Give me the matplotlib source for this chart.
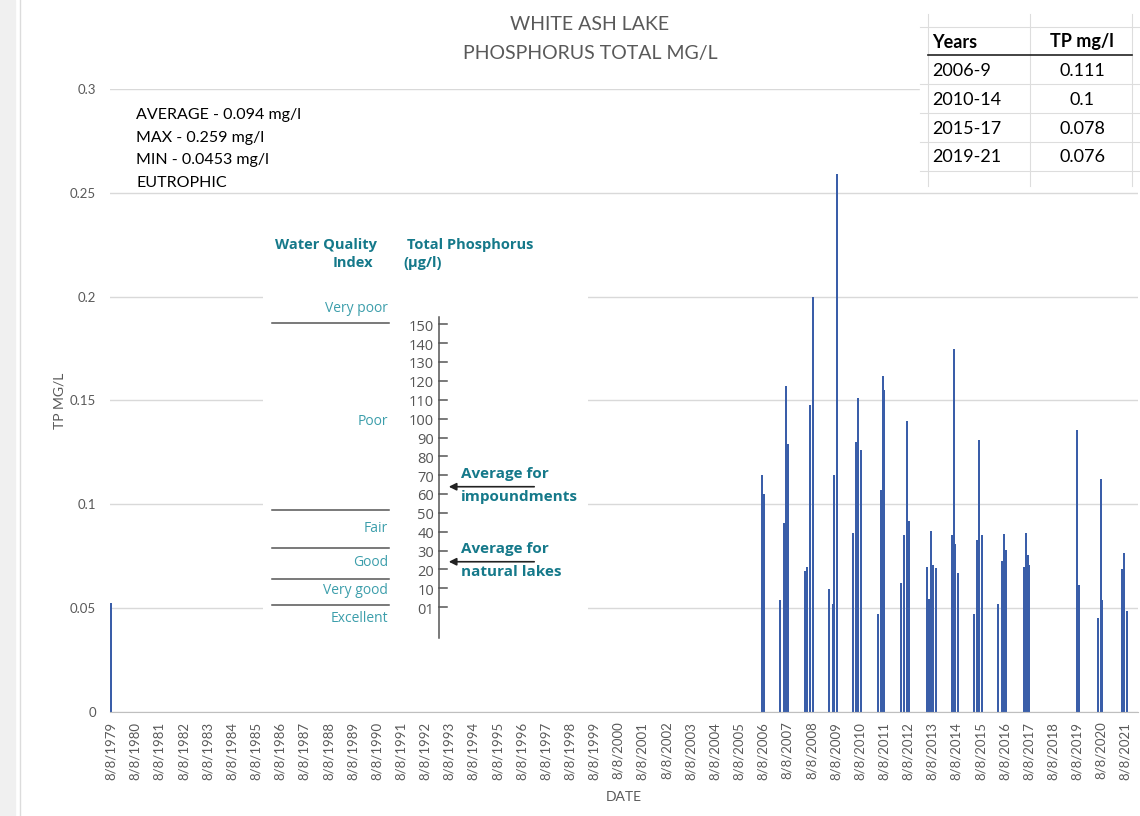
import datetime as dt

import matplotlib
matplotlib.use("Agg")
import matplotlib.pyplot as plt  # noqa: E402
import matplotlib.dates as mdates  # noqa: E402
from matplotlib.lines import Line2D  # noqa: E402
from matplotlib.patches import Rectangle, FancyArrowPatch  # noqa: E402

W, H = 1140, 816

# --- data --------------------------------------------------------------------
sample_dates = [
    "1979-08-08",
    "2006-07-28", "2006-08-18",
    "2007-04-21", "2007-06-25", "2007-07-21", "2007-08-25",
    "2008-05-04", "2008-06-08", "2008-07-23", "2008-08-28",
    "2009-05-06", "2009-06-27", "2009-07-21", "2009-08-26",
    "2010-04-25", "2010-06-18", "2010-07-19", "2010-08-24",
    "2011-05-08", "2011-06-22", "2011-07-22", "2011-08-16",
    "2012-04-25", "2012-06-14", "2012-07-20", "2012-08-28",
    "2013-05-18", "2013-06-18", "2013-07-22", "2013-08-22", "2013-10-11",
    "2014-05-31", "2014-06-30", "2014-07-25", "2014-08-30",
    "2015-05-03", "2015-06-18", "2015-07-13", "2015-08-28",
    "2016-05-01", "2016-06-26", "2016-07-31", "2016-08-25",
    "2017-05-24", "2017-06-28", "2017-07-24", "2017-08-17",
    "2019-08-03", "2019-09-03",
    "2020-06-21", "2020-08-06", "2020-08-25",
    "2021-06-24", "2021-07-19", "2021-08-29",
]
tp_mgl = [
    0.0524,
    0.114, 0.105,
    0.054, 0.091, 0.157, 0.129,
    0.068, 0.070, 0.148, 0.200,
    0.059, 0.052, 0.114, 0.259,
    0.086, 0.130, 0.151, 0.126,
    0.047, 0.107, 0.162, 0.155,
    0.062, 0.085, 0.140, 0.092,
    0.070, 0.0546, 0.087, 0.071, 0.0694,
    0.085, 0.175, 0.081, 0.067,
    0.047, 0.083, 0.131, 0.085,
    0.052, 0.0726, 0.0857, 0.078,
    0.0697, 0.086, 0.0754, 0.0706,
    0.136, 0.0613,
    0.0453, 0.112, 0.054,
    0.069, 0.0766, 0.0488,
]
tick_years = list(range(1979, 2022))
y_ticks = [0, 0.05, 0.1, 0.15, 0.2, 0.25, 0.3]
y_tick_labels = ["0", "0.05", "0.1", "0.15", "0.2", "0.25", "0.3"]

stats_lines = ["AVERAGE - 0.094 mg/l", "MAX - 0.259 mg/l",
               "MIN - 0.0453 mg/l", "EUTROPHIC"]

table_header = ["Years", "TP mg/l"]
table_years = ["2006-9", "2010-14", "2015-17", "2019-21"]
table_tp = ["0.111", "0.1", "0.078", "0.076"]

# pasted water-quality graphic (scale in ug/l)
wqi_labels = ["Very poor", "Poor", "Fair", "Good", "Very good", "Excellent"]
wqi_label_ug = [160, 100, 43.5, 25, 10.5, -4.5]
wqi_bounds_ug = [152, 53, 33, 16.5, 2.6]
scale_ug = [150, 140, 130, 120, 110, 100, 90, 80, 70, 60, 50, 40, 30, 20, 10, 0]
scale_labels = ["150", "140", "130", "120", "110", "100", "90", "80", "70",
                "60", "50", "40", "30", "20", "10", "01"]
avg_notes = ["Average for\nimpoundments", "Average for\nnatural lakes"]
avg_ug = [65.4, 25.6]

BAR = "#3A5EA9"
GRID = "#D9D9D9"
TXT = "#595959"
TEAL = "#15798A"
TEAL_LT = "#3C9EAB"

plt.rcParams["font.family"] = ["Lato", "DejaVu Sans"]


def fx(x):
    return x / W


def fy(y):
    return 1 - y / H


fig = plt.figure(figsize=(W / 100, H / 100), dpi=100, facecolor="white")

# worksheet edge on the left
fig.add_artist(Rectangle((0, 0), fx(15), 1, transform=fig.transFigure,
                         color="#F0F0F0", zorder=-1))
fig.add_artist(Line2D([fx(20), fx(20)], [0, 1], transform=fig.transFigure,
                      color="#DCDCDC", lw=1, zorder=-1))

# --- main chart --------------------------------------------------------------
ax = fig.add_axes([fx(110), fy(712), (1138 - 110) / W, (712 - 89) / H])
dates = [dt.datetime.strptime(d, "%Y-%m-%d") for d in sample_dates]
ax.bar(dates, tp_mgl, width=28, color=BAR, edgecolor="none", zorder=2)

start = dt.datetime(1979, 8, 8) - dt.timedelta(days=15)
ax.set_xlim(start, start + dt.timedelta(days=15547))
ax.set_ylim(0, 0.3)
ax.set_yticks(y_ticks)
ax.set_yticklabels(y_tick_labels)
ax.set_xticks([mdates.date2num(dt.datetime(y, 8, 8)) for y in tick_years])
ax.set_xticklabels([f"8/8/{y}" for y in tick_years], rotation=90)
ax.grid(axis="y", color=GRID, lw=1)
ax.set_axisbelow(True)
for s in ("top", "right", "left"):
    ax.spines[s].set_visible(False)
ax.spines["bottom"].set_color("#BFBFBF")
ax.tick_params(length=0, labelsize=9.5, labelcolor=TXT)
ax.tick_params(axis="y", pad=10)
ax.tick_params(axis="x", pad=7)
ax.set_xlabel("DATE", fontsize=10, color=TXT, labelpad=8)
ax.set_ylabel("TP MG/L", fontsize=10, color=TXT, labelpad=3)

fig.text(fx(590), fy(25), "WHITE ASH LAKE", ha="center", va="center",
         fontsize=14, color=TXT)
fig.text(fx(590), fy(54), "PHOSPHORUS TOTAL MG/L", ha="center", va="center",
         fontsize=14, color=TXT)

for i, line in enumerate(stats_lines):
    fig.text(fx(136), fy(115 + i * 22.7), line, ha="left", va="center",
             fontsize=11.5, color="black")

# --- summary table (spreadsheet cells) ---------------------------------------
fig.add_artist(Rectangle((fx(920), fy(186)), (1140 - 920) / W, (186 - 14) / H,
                         transform=fig.transFigure, color="white", zorder=3))
for yy in (27, 84, 113, 142, 171):
    fig.add_artist(Line2D([fx(920), fx(1140)], [fy(yy), fy(yy)],
                          transform=fig.transFigure, color="#DDDDDD", lw=0.8, zorder=4))
for xx in (928, 1030, 1132):
    fig.add_artist(Line2D([fx(xx), fx(xx)], [fy(14), fy(186)],
                          transform=fig.transFigure, color="#DDDDDD", lw=0.8, zorder=4))
fig.add_artist(Line2D([fx(928), fx(1132)], [fy(55), fy(55)],
                      transform=fig.transFigure, color="#222222", lw=1.2, zorder=4))
fig.text(fx(932), fy(42), table_header[0], ha="left", va="center",
         fontsize=13, weight="bold", color="black", zorder=5)
fig.text(fx(1082), fy(42), table_header[1], ha="center", va="center",
         fontsize=13, weight="bold", color="black", zorder=5)
for i, (yr, tp) in enumerate(zip(table_years, table_tp)):
    yy = 71 + i * 28.8
    fig.text(fx(932), fy(yy), yr, ha="left", va="center",
             fontsize=13, color="black", zorder=5)
    fig.text(fx(1082), fy(yy), tp, ha="center", va="center",
             fontsize=13, color="black", zorder=5)

# --- pasted water-quality index graphic --------------------------------------
PX_PER_UG = 1.885
ZERO_Y = 610
ins = fig.add_axes([fx(263), fy(650), (588 - 263) / W, (650 - 205) / H], zorder=2)
ins.set_facecolor("white")
ins.set_xlim(263, 588)
ins.set_ylim((ZERO_Y - 650) / PX_PER_UG, (ZERO_Y - 205) / PX_PER_UG)
ins.set_xticks([])
ins.set_yticks([])
for s in ins.spines.values():
    s.set_visible(False)

gfont = ["Open Sans", "DejaVu Sans"]
ins.text(377, 193.6, "Water Quality", ha="right", va="center", fontsize=10.5,
         weight="bold", color=TEAL, family=gfont)
ins.text(373, 184.1, "Index", ha="right", va="center", fontsize=10.5,
         weight="bold", color=TEAL, family=gfont)
ins.text(407, 193.6, "Total Phosphorus", ha="left", va="center", fontsize=10.5,
         weight="bold", color=TEAL, family=gfont)
ins.text(403, 184.1, "(µg/l)", ha="left", va="center", fontsize=10.5,
         weight="bold", color=TEAL, family=gfont)

for lab, v in zip(wqi_labels, wqi_label_ug):
    ins.text(388, v, lab, ha="right", va="center", fontsize=10,
             color=TEAL_LT, family=gfont)
for b in wqi_bounds_ug:
    ins.plot([272, 389], [b, b], color="#555555", lw=1.1)

ins.plot([439, 439], [(ZERO_Y - 638) / PX_PER_UG, (ZERO_Y - 317) / PX_PER_UG],
         color="#555555", lw=1.1)
for v, lab in zip(scale_ug, scale_labels):
    ins.plot([439, 447], [v + 1.5, v + 1.5], color="#555555", lw=1.1)
    ins.text(434, v, lab, ha="right", va="center", fontsize=10.5,
             color="#555555", family=gfont)

for note, v in zip(avg_notes, avg_ug):
    ins.add_patch(FancyArrowPatch((537, v), (446, v), arrowstyle="-|>",
                                  mutation_scale=11, color="#222222", lw=1.2))
    ins.text(461, v + 0.6, note, ha="left", va="center", fontsize=11,
             weight="bold", color=TEAL, family=gfont, linespacing=1.75)

fig.savefig("out.png", dpi=100, facecolor="white")
